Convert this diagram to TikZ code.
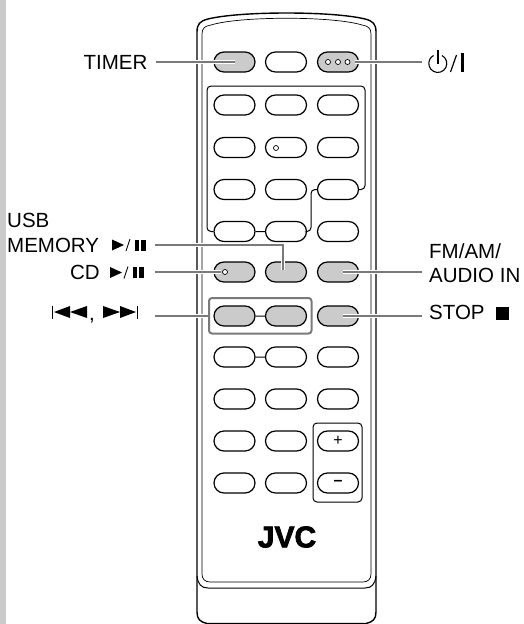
\documentclass[tikz,border=0pt]{standalone}
\usepackage{fontspec}
\setmainfont{Liberation Sans}
\newfontfamily\logofont[FakeBold=2.5]{Liberation Sans Bold}
\usetikzlibrary{shapes.misc}
\definecolor{keygray}{HTML}{CBCBCB}
\definecolor{leadgray}{HTML}{7A7A7A}
\tikzset{
  btn/.style={draw,fill=white,rounded rectangle,line width=1.2pt,minimum width=41pt,minimum height=20pt,inner sep=0pt},
  lbl/.style={inner sep=0pt,font=\fontsize{20.5}{24}\selectfont},
  keyline/.style={line width=1pt,rounded corners=4pt},
  leader/.style={draw=leadgray,line width=2pt,preaction={draw=white,line width=3.6pt}},
  dot/.style={circle,draw,fill=white,line width=0.7pt,minimum size=5pt,inner sep=0pt},
  % keys that the callouts point at
  b1-1/.style={fill=keygray}, b1-3/.style={fill=keygray},
  b6-1/.style={fill=keygray}, b6-2/.style={fill=keygray}, b6-3/.style={fill=keygray},
  b7-1/.style={fill=keygray}, b7-2/.style={fill=keygray}, b7-3/.style={fill=keygray},
  playpause/.pic={
    \fill (0,-5.5) -- (12,0) -- (0,5.5) -- cycle;
    \draw[line width=0.9pt] (14,6) -- (18,-6);
    \fill (23,-5.5) rectangle (27,5.5);
    \fill (29,-5.5) rectangle (34,5.5);
  },
  playfwd/.pic={
    \fill (0,-6) -- (17,0) -- (0,6) -- cycle;
    \fill (17,-6) -- (33,0) -- (17,6) -- cycle;
    \draw[line width=0.9pt] (34.5,-6.5) -- (34.5,6.5);
  },
  playback/.pic={
    \draw[line width=0.9pt] (0.5,-6.5) -- (0.5,6.5);
    \fill (18,-6) -- (2,0) -- (18,6) -- cycle;
    \fill (35,-6) -- (18,0) -- (35,6) -- cycle;
  },
}
\begin{document}
\begin{tikzpicture}[x=1pt,y=-1pt]
  \useasboundingbox (0,0) rectangle (524,624);
  \fill[keygray] (0,0) rectangle (6,624);
  % remote body
  \draw[line width=1.4pt] (197,612) -- (197,32) .. controls (197,24) and (200,21) .. (208,19)
    .. controls (240,11) and (333,11) .. (365,19) .. controls (373,21) and (376,24) .. (376,32)
    -- (376,612) .. controls (376,619) and (373,622) .. (366,623.5) -- (207,623.5)
    .. controls (200,622) and (197,619) .. (197,612);
  \draw[line width=0.7pt] (202,34) .. controls (202,28) and (205,26) .. (211,25)
    .. controls (240,16) and (333,16) .. (362,25) .. controls (368,26) and (371,28) .. (371,34)
    -- (371,574) .. controls (371,579) and (368,582) .. (363,582) -- (210,582)
    .. controls (205,582) and (202,579) .. (202,574) -- cycle;
  \draw[line width=1pt] (197,576) .. controls (198,584) and (201,588) .. (208,588) -- (365,588)
    .. controls (372,588) and (375,584) .. (376,576);
  % keys
  \foreach \r/\y in {1/62,2/105,3/147.5,4/189.5,5/231.5,6/272,7/316,8/357,9/399,10/441,11/483}
    \foreach \c/\x in {1/234.5,2/286,3/338}
      \node[btn,b\r-\c/.try] (b\r-\c) at (\x,\y) {};
  % key groups
  \draw[keyline] (b5-1.west) -- (207,231.5) -- (207,86) -- (365,86) -- (365,189.5) -- (b4-3.east);
  \draw[keyline] (b5-2.east) -- (311,231.5) -- (311,189.5) -- (b4-3.west);
  \draw[line width=1pt] (b5-1) -- (b5-2);
  \draw[line width=1pt] (b7-1) -- (b7-2);
  \draw[line width=1pt] (b8-1) -- (b8-2);
  \draw[keyline] (313,423) rectangle (362,502);
  \draw[draw=leadgray,line width=2pt,rounded corners=3pt] (209,298) rectangle (311.5,333.5);
  % marks on the keys
  \foreach \i/\x in {1/328,2/338,3/347.5}
    \node[dot] (pw\i) at (\x,62) {};
  \node[dot] (numdot) at (276,148) {};
  \node[dot] (cddot) at (225,272) {};
  \node[inner sep=0pt,font=\fontsize{16}{16}\selectfont] (plus) at (b10-3) {+};
  \node[inner sep=0pt,font=\fontsize{16}{16}\selectfont\bfseries] (minus) at (b11-3) {–};
  \node[inner sep=0pt,font=\logofont\fontsize{30}{30}\selectfont] (logo) at (287,537) {JVC};
  % callouts
  \node[lbl,anchor=base east] (timer) at (147.5,69) {TIMER};
  \node[lbl,anchor=base west] (usb) at (7,227) {USB};
  \node[lbl,anchor=base west] (memory) at (7,252) {MEMORY};
  \node[lbl,anchor=base east] (cd) at (100,279) {CD};
  \node[lbl,anchor=base] (comma) at (92,320) {,};
  \node[lbl,anchor=base west] (fmam) at (429,258) {FM/AM/};
  \node[lbl,anchor=base west] (audio) at (429,282) {AUDIO IN};
  \node[lbl,anchor=base west] (stop) at (429,319) {STOP};
  \fill (496,307) rectangle (509,320);
  \pic at (112,245) {playpause};
  \pic at (110,272.5) {playpause};
  \pic at (52,312) {playback};
  \pic at (103,312) {playfwd};
  % power sign
  \draw[line width=1.1pt] (442,55.5) arc[start angle=-62,end angle=242,radius=9];
  \draw[line width=1.1pt] (438,50) -- (438,64);
  \draw[line width=1.2pt] (450.5,72) -- (456.5,55);
  \fill (461,53) rectangle (464,72);
  % leader lines
  \coordinate (timerfrom) at (156,62);
  \coordinate (powerfrom) at (422,62);
  \coordinate (powerto) at (355,62);
  \coordinate (usbfrom) at (155,245);
  \coordinate (usbbend) at (283,245);
  \coordinate (usbto) at (283,270);
  \coordinate (cdfrom) at (155,272);
  \coordinate (cdto) at (221,272);
  \coordinate (fmfrom) at (422,272);
  \coordinate (fmto) at (343,272);
  \coordinate (stopfrom) at (422,316);
  \coordinate (stopto) at (343,316);
  \coordinate (skipfrom) at (155,316);
  \coordinate (skipto) at (208,316);
  \draw[leader] (timerfrom) -- (b1-1.center);
  \draw[leader] (powerfrom) -- (powerto);
  \draw[leader] (usbfrom) -- (usbbend) -- (usbto);
  \draw[leader] (cdfrom) -- (cdto);
  \draw[leader] (fmfrom) -- (fmto);
  \draw[leader] (stopfrom) -- (stopto);
  \draw[leader] (skipfrom) -- (skipto);
\end{tikzpicture}
\end{document}
